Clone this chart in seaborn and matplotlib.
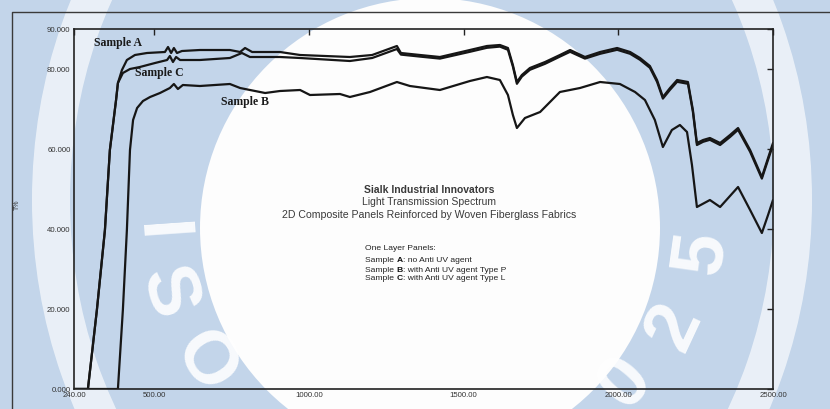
import matplotlib
matplotlib.use("Agg")
import matplotlib.pyplot as plt
import matplotlib.patches as mpatches
import numpy as np
import pandas as pd
import seaborn as sns

# Transmission spectra (wavelength in nm, transmittance in %)
wl_a = [240, 285, 314, 340, 356, 376, 382, 395, 411, 437, 476, 534, 544, 554, 563, 573, 589, 647, 744, 777,
        793, 816, 906, 971, 1132, 1204, 1284, 1297, 1359, 1423, 1520, 1575, 1617, 1643, 1659, 1672, 1688, 1714,
        1763, 1811, 1844, 1892, 1941, 1996, 2038, 2070, 2102, 2125, 2144, 2167, 2190, 2225, 2241, 2254, 2274,
        2296, 2329, 2361, 2387, 2426, 2464, 2484, 2500]
t_a = [0, 0, 19.75, 39.75, 59.75, 72.25, 76.5, 79.75, 82.25, 83.5, 84, 84.25, 85.5, 84, 85.25, 84, 84.5, 84.75,
       84.75, 84.25, 85.25, 84.25, 84.25, 83.5, 83, 83.5, 85.75, 84, 83.5, 83, 84.75, 85.75, 86, 85.25, 81, 76.75,
       78.5, 80.25, 81.75, 83.5, 84.75, 83, 84.25, 85.25, 84.25, 82.75, 80.75, 77.25, 73, 75.25, 77.25, 76.75,
       69.75, 61.5, 62.25, 62.75, 61.5, 63.5, 65.25, 59.75, 53, 57.75, 61.5]

wl_c = [240, 285, 314, 340, 356, 376, 382, 398, 421, 453, 502, 541, 550, 560, 570, 583, 647, 744, 783, 809,
        906, 971, 1132, 1204, 1284, 1297, 1359, 1423, 1520, 1575, 1617, 1643, 1659, 1672, 1688, 1714, 1763, 1811,
        1844, 1892, 1941, 1996, 2038, 2070, 2102, 2125, 2144, 2167, 2190, 2225, 2241, 2254, 2274, 2296, 2329,
        2361, 2387, 2426, 2464, 2484, 2500]
t_c = [0, 0, 19.75, 39.75, 59.75, 72.25, 76.5, 79, 80, 80.5, 81.5, 82.25, 83.25, 81.75, 83, 82.25, 82.25, 82.75,
       84, 83, 83, 82.75, 82, 82.75, 85, 83.6, 83.1, 82.6, 84.3, 85.3, 85.6, 84.8, 80.6, 76.3, 78.1, 79.8, 81.3,
       83.1, 84.3, 82.6, 83.8, 84.8, 83.8, 82.3, 80.3, 76.8, 72.6, 74.8, 76.8, 76.3, 69.3, 61.0, 61.8, 62.3, 61.0,
       63.0, 64.8, 59.3, 52.6, 57.3, 61.0]

wl_b = [240, 382, 398, 411, 421, 431, 444, 463, 486, 518, 550, 563, 576, 592, 647, 744, 777, 809, 858, 906,
        971, 1003, 1100, 1132, 1197, 1284, 1326, 1423, 1520, 1575, 1617, 1643, 1659, 1672, 1698, 1747, 1811,
        1876, 1941, 2005, 2054, 2086, 2118, 2144, 2173, 2199, 2222, 2238, 2254, 2296, 2329, 2387, 2426, 2464,
        2484, 2500]
t_b = [0, 0, 19.75, 39.75, 59.75, 67.25, 70.25, 72, 73, 74, 75.25, 76.25, 75, 76, 75.75, 76.25, 75.25, 74.75,
       74, 74.5, 74.75, 73.5, 73.75, 73, 74.25, 76.75, 75.75, 74.75, 77, 78, 77.25, 73.5, 68.5, 65.25, 67.75,
       69.25, 74.25, 75.25, 76.75, 76.25, 74.25, 72.25, 67.25, 60.5, 64.75, 66, 64.25, 56, 45.5, 47.25, 45.5,
       50.5, 44.75, 39, 43.5, 47.25]

x_ticks = [240, 500, 1000, 1500, 2000, 2500]
x_ticklabels = ["240.00", "500.00", "1000.00", "1500.00", "2000.00", "2500.00"]
y_ticks = [0, 20, 40, 60, 80, 90]
y_ticklabels = ["0.000", "20.000", "40.000", "60.000", "80.000", "90.000"]

legend_head = "One Layer Panels:"
legend_keys = ["A", "B", "C"]
legend_desc = [": no Anti UV agent", ": with Anti UV agent Type P", ": with Anti UV agent Type L"]

df = pd.concat([
    pd.DataFrame({"wl": wl_a, "T": t_a, "sample": "A"}),
    pd.DataFrame({"wl": wl_c, "T": t_c, "sample": "C"}),
    pd.DataFrame({"wl": wl_b, "T": t_b, "sample": "B"}),
], ignore_index=True)

sns.set_theme(style="white")
plt.rcParams["font.family"] = ["Liberation Sans", "DejaVu Sans"]

W, H = 830, 409
fig = plt.figure(figsize=(W / 100, H / 100), dpi=100)
blue = "#c3d5ea"
fig.patch.set_facecolor(blue)

# background emblem, in pixel coordinates
bg = fig.add_axes([0, 0, 1, 1], zorder=0)
bg.set_xlim(0, W)
bg.set_ylim(H, 0)
bg.axis("off")
bg.add_patch(mpatches.Rectangle((0, 0), W, H, color=blue, lw=0))
bg.add_patch(mpatches.Annulus((422, 200), (390, 460), 38, color="#eef3f9", lw=0, alpha=0.9))
bg.add_patch(mpatches.Circle((430, 228), 230, color="#fdfdfd", lw=0))
for ch, (px, py), rot in [("I", (158, 233), -86), ("S", (167, 293), -73), ("O", (205, 363), -57),
                          ("0", (626, 382), 49), ("2", (675, 327), 65), ("5", (702, 253), 82)]:
    bg.text(px, py, ch, rotation=rot, rotation_mode="anchor", ha="center", va="center",
            fontsize=54, fontweight="bold", color="white", alpha=0.88, family="Liberation Sans")
# outer frame
bg.plot([12, 12, W], [H, 12, 12], color="#3a3a3a", lw=1.0)

ax = fig.add_axes([74 / W, 1 - 389 / H, (773 - 74) / W, (389 - 29) / H], zorder=1)
ax.set_facecolor("none")
sns.lineplot(data=df, x="wl", y="T", hue="sample", units="sample", estimator=None, sort=False,
             palette={"A": "#161616", "B": "#161616", "C": "#161616"}, lw=1.6, legend=False, ax=ax)
ax.set_xlim(240, 2500)
ax.set_ylim(0, 90)
ax.set_xticks(x_ticks)
ax.set_xticklabels(x_ticklabels)
ax.set_yticks(y_ticks)
ax.set_yticklabels(y_ticklabels)
ax.tick_params(direction="in", length=4, width=1, colors="#222222", labelsize=5.6,
               top=True, right=True, pad=2.5, labelcolor="#333333")
for s in ax.spines.values():
    s.set_color("#222222")
    s.set_linewidth(1.2)
ax.set_xlabel("")
ax.set_ylabel("")

fig.text(17 / W, 1 - 205 / H, "T%", rotation=90, ha="center", va="center", fontsize=5, color="#333333")

serif = dict(family="Liberation Serif", fontweight="bold", fontsize=8.5, color="#1a1a1a", va="center")
bg.text(94, 43, "Sample A", **serif)
bg.text(135, 73, "Sample C", **serif)
bg.text(221, 102, "Sample B", **serif)

cx = 429
bg.text(cx, 190, "Sialk Industrial Innovators", ha="center", va="center", fontsize=7.5,
        fontweight="bold", color="#3a3a3a")
bg.text(cx, 202, "Light Transmission Spectrum", ha="center", va="center", fontsize=7.5, color="#3a3a3a")
bg.text(cx, 215, "2D Composite Panels Reinforced by Woven Fiberglass Fabrics", ha="center", va="center",
        fontsize=7.6, color="#3a3a3a")

# sample key: plain "Sample ", bold letter, then the description, laid end to end
lx = 365
fs = 6.1
bg.text(lx, 248, legend_head, va="center", fontsize=fs, color="#222222")
fig.canvas.draw()
renderer = fig.canvas.get_renderer()
inv = bg.transData.inverted()
for i, (k, d) in enumerate(zip(legend_keys, legend_desc)):
    y = 261 + 9 * i
    t1 = bg.text(lx, y, "Sample ", va="center", fontsize=fs, color="#222222")
    x1 = inv.transform(t1.get_window_extent(renderer))[1, 0]
    t2 = bg.text(x1, y, k, va="center", fontsize=fs, fontweight="bold", color="#111111")
    x2 = inv.transform(t2.get_window_extent(renderer))[1, 0]
    bg.text(x2, y, d, va="center", fontsize=fs, color="#222222")

fig.savefig("out.png", dpi=100, facecolor=fig.get_facecolor())
